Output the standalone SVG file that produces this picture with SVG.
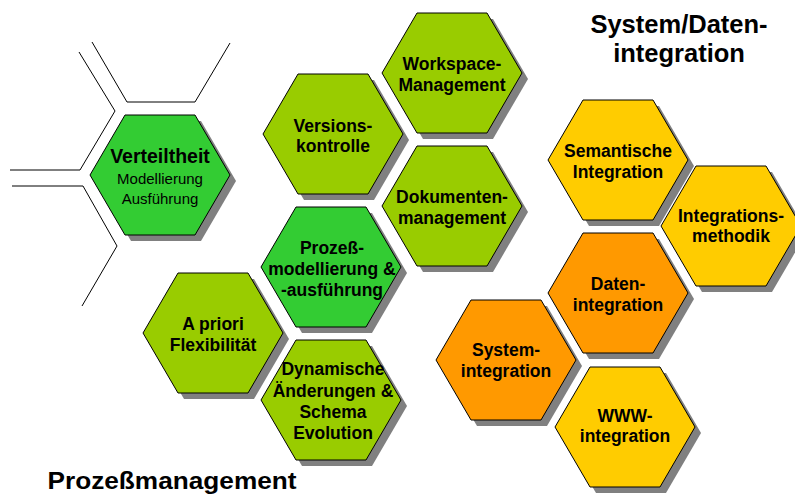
<svg xmlns="http://www.w3.org/2000/svg" xmlns:xlink="http://www.w3.org/1999/xlink" width="795" height="498" viewBox="0 0 795 498">
  <defs>
    <!-- flat-topped regular hexagon, radius 70 -->
    <polygon id="hex" points="-70,0 -35,-60 35,-60 70,0 35,60 -35,60"/>
    <style>
      .shadow { fill: #808080; stroke: none; }
      .lime { fill: #99CC00; stroke: #000; stroke-width: 1; }
      .green { fill: #33CC33; stroke: #000; stroke-width: 1; }
      .yellow { fill: #FFCC00; stroke: #000; stroke-width: 1; }
      .orange { fill: #FF9900; stroke: #000; stroke-width: 1; }
      .grid { fill: none; stroke: #000; stroke-width: 1; }
      text { font-family: "Liberation Sans", Arial, Helvetica, sans-serif; fill: #000; text-anchor: middle; }
      .lbl { font-size: 17.5px; font-weight: bold; }
      .sub { font-size: 15px; font-weight: normal; }
      .head { font-size: 19.5px; font-weight: bold; }
      .title { font-size: 25.5px; font-weight: bold; }
    </style>
  </defs>

  <rect width="795" height="498" fill="#fff"/>

  <!-- outlines of the neighbouring cells around "Verteiltheit" -->
  <g id="connectors">
    <polyline class="grid" points="79,52 115,111 80,170 10,170"/>
    <polyline class="grid" points="92,42 127,102 195,102 230,43"/>
    <polyline class="grid" points="12,186 83,186 117,246 82,306"/>
  </g>

  <!-- Prozessmanagement cluster -->
  <g id="verteiltheit">
    <use xlink:href="#hex" href="#hex" class="shadow" transform="translate(166,181)"/>
    <use xlink:href="#hex" href="#hex" class="green" transform="translate(160,175)"/>
    <text class="head" x="160" y="163">Verteiltheit</text>
    <text class="sub" x="160" y="183.5">Modellierung</text>
    <text class="sub" x="160" y="203.5">Ausführung</text>
  </g>

  <g id="workspace">
    <use xlink:href="#hex" href="#hex" class="shadow" transform="translate(458,79)"/>
    <use xlink:href="#hex" href="#hex" class="lime" transform="translate(452,73)"/>
    <text class="lbl" x="452" y="70">Workspace-</text>
    <text class="lbl" x="452" y="90.5">Management</text>
  </g>

  <g id="versionen">
    <use xlink:href="#hex" href="#hex" class="shadow" transform="translate(339,140)"/>
    <use xlink:href="#hex" href="#hex" class="lime" transform="translate(333,134)"/>
    <text class="lbl" x="333" y="131.5">Versions-</text>
    <text class="lbl" x="333" y="152">kontrolle</text>
  </g>

  <g id="dokumente">
    <use xlink:href="#hex" href="#hex" class="shadow" transform="translate(458,212)"/>
    <use xlink:href="#hex" href="#hex" class="lime" transform="translate(452,206)"/>
    <text class="lbl" x="452" y="203">Dokumenten-</text>
    <text class="lbl" x="452" y="223.5">management</text>
  </g>

  <g id="prozess">
    <use xlink:href="#hex" href="#hex" class="shadow" transform="translate(337,273)"/>
    <use xlink:href="#hex" href="#hex" class="green" transform="translate(331,267)"/>
    <text class="lbl" x="332" y="253.5">Prozeß-</text>
    <text class="lbl" x="332" y="274.5">modellierung &amp;</text>
    <text class="lbl" x="332" y="295.5">-ausführung</text>
  </g>

  <g id="apriori">
    <use xlink:href="#hex" href="#hex" class="shadow" transform="translate(219,339)"/>
    <use xlink:href="#hex" href="#hex" class="lime" transform="translate(213,333)"/>
    <text class="lbl" x="213" y="330">A priori</text>
    <text class="lbl" x="213" y="351">Flexibilität</text>
  </g>

  <g id="dynamisch">
    <use xlink:href="#hex" href="#hex" class="shadow" transform="translate(337,406)"/>
    <use xlink:href="#hex" href="#hex" class="lime" transform="translate(331,400)"/>
    <text class="lbl" x="333" y="375">Dynamische</text>
    <text class="lbl" x="333" y="396.5">Änderungen &amp;</text>
    <text class="lbl" x="333" y="418">Schema</text>
    <text class="lbl" x="333" y="438.5">Evolution</text>
  </g>

  <!-- Integration cluster -->
  <g id="semantisch">
    <use xlink:href="#hex" href="#hex" class="shadow" transform="translate(624,166)"/>
    <use xlink:href="#hex" href="#hex" class="yellow" transform="translate(618,160)"/>
    <text class="lbl" x="618" y="157">Semantische</text>
    <text class="lbl" x="618" y="177.5">Integration</text>
  </g>

  <g id="methodik">
    <use xlink:href="#hex" href="#hex" class="shadow" transform="translate(737,232)"/>
    <use xlink:href="#hex" href="#hex" class="yellow" transform="translate(731,226)"/>
    <text class="lbl" x="731" y="222">Integrations-</text>
    <text class="lbl" x="731" y="242">methodik</text>
  </g>

  <g id="daten">
    <use xlink:href="#hex" href="#hex" class="shadow" transform="translate(624,299)"/>
    <use xlink:href="#hex" href="#hex" class="orange" transform="translate(618,293)"/>
    <text class="lbl" x="618" y="290">Daten-</text>
    <text class="lbl" x="618" y="310.5">integration</text>
  </g>

  <g id="system">
    <use xlink:href="#hex" href="#hex" class="shadow" transform="translate(512,366)"/>
    <use xlink:href="#hex" href="#hex" class="orange" transform="translate(506,360)"/>
    <text class="lbl" x="506" y="356">System-</text>
    <text class="lbl" x="506" y="376.5">integration</text>
  </g>

  <g id="www">
    <use xlink:href="#hex" href="#hex" class="shadow" transform="translate(631,433)"/>
    <use xlink:href="#hex" href="#hex" class="yellow" transform="translate(625,427)"/>
    <text class="lbl" x="625" y="422">WWW-</text>
    <text class="lbl" x="625" y="442">integration</text>
  </g>

  <!-- area headings -->
  <g id="heading-integration">
    <text class="title" x="679" y="33">System/Daten-</text>
    <text class="title" x="679" y="62">integration</text>
  </g>
  <g id="heading-prozess">
    <text class="title" x="172" y="489" style="font-size:24px" textLength="249" lengthAdjust="spacingAndGlyphs">Prozeßmanagement</text>
  </g>
</svg>
